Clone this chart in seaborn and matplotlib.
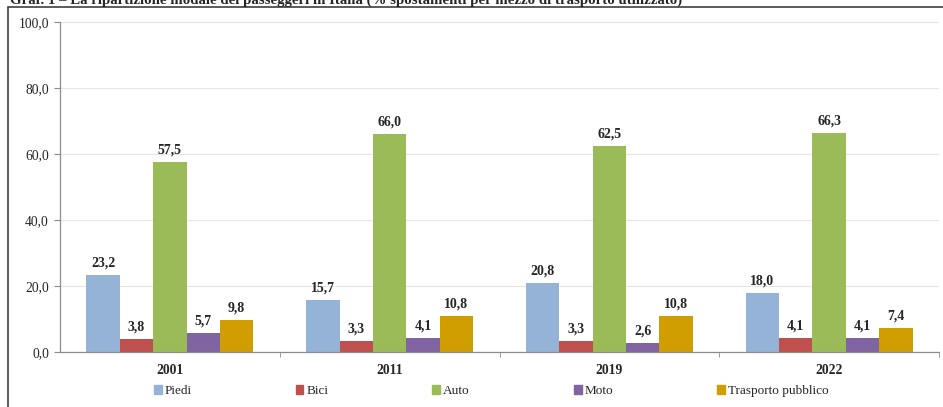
import pandas as pd
import matplotlib
matplotlib.use("Agg")
import matplotlib.pyplot as plt
import seaborn as sns
from matplotlib.patches import Rectangle
from matplotlib.ticker import FuncFormatter, FixedLocator

# Data
years = ["2001", "2011", "2019", "2022"]
modes = ["Piedi", "Bici", "Auto", "Moto", "Trasporto pubblico"]
piedi = [23.2, 15.7, 20.8, 18.0]
bici = [3.8, 3.3, 3.3, 4.1]
auto = [57.5, 66.0, 62.5, 66.3]
moto = [5.7, 4.1, 2.6, 4.1]
trasporto = [9.8, 10.8, 10.8, 7.4]

colors = ["#95B3D7", "#C0504D", "#9BBB59", "#8064A2", "#D09E00"]

rows = []
for mode, vals in zip(modes, [piedi, bici, auto, moto, trasporto]):
    for y, v in zip(years, vals):
        rows.append({"Anno": y, "Mezzo": mode, "Valore": v})
df = pd.DataFrame(rows)

sns.set_style("white")
plt.rcParams["font.family"] = ["Liberation Serif", "DejaVu Serif"]

fig = plt.figure(figsize=(9.43, 4.07), dpi=100)
ax = fig.add_axes([60 / 943, 55 / 407, 879 / 943, 330 / 407])

sns.barplot(data=df, x="Anno", y="Valore", hue="Mezzo", order=years,
            hue_order=modes, palette=colors, width=0.76, saturation=1,
            edgecolor="none", ax=ax, legend=False)

for cont in ax.containers:
    labs = [f"{b.get_height():.1f}".replace(".", ",") for b in cont]
    ax.bar_label(cont, labels=labs, padding=4, fontsize=10, fontweight="bold")

ax.set_ylim(0, 100)
ax.set_xlim(-0.5, 3.5)
ax.set_yticks([0, 20, 40, 60, 80, 100])
ax.yaxis.set_major_formatter(FuncFormatter(lambda v, p: f"{v:.1f}".replace(".", ",")))
ax.yaxis.grid(True, color="#E6E6E6", linewidth=0.8)
ax.set_axisbelow(True)
ax.set_xlabel("")
ax.set_ylabel("")

for s in ["top", "right"]:
    ax.spines[s].set_visible(False)
for s in ["left", "bottom"]:
    ax.spines[s].set_color("#8C8C8C")
    ax.spines[s].set_linewidth(0.9)

ax.tick_params(axis="y", length=4, color="#8C8C8C", labelsize=9.8, pad=4, left=True)
ax.tick_params(axis="x", which="major", length=0, pad=9, labelsize=9.8)
for t in ax.get_xticklabels():
    t.set_fontweight("bold")
ax.xaxis.set_minor_locator(FixedLocator([0.5, 1.5, 2.5, 3.5]))
ax.tick_params(axis="x", which="minor", length=3.5, color="#8C8C8C", bottom=True)

handles = [plt.Rectangle((0, 0), 1, 1, color=c) for c in colors]
fig.legend(handles, modes, loc="center", bbox_to_anchor=(491 / 943, 16 / 407), ncol=5,
           frameon=False, fontsize=9.5, handlelength=0.6, handleheight=0.6,
           handletextpad=0.2, columnspacing=7.9)

fig.patches.append(Rectangle((8 / 943, -0.1), 1.2, 1 - 7 / 407 + 0.1,
                             transform=fig.transFigure, fill=False,
                             edgecolor="#404040", linewidth=1.2))

fig.text(10 / 943, 1 - 3.5 / 407,
         "Graf. 1 – La ripartizione modale dei passeggeri in Italia "
         "(% spostamenti per mezzo di trasporto utilizzato)",
         fontsize=10.7, fontweight="bold", va="baseline", ha="left")

fig.savefig("out.png", dpi=100)
